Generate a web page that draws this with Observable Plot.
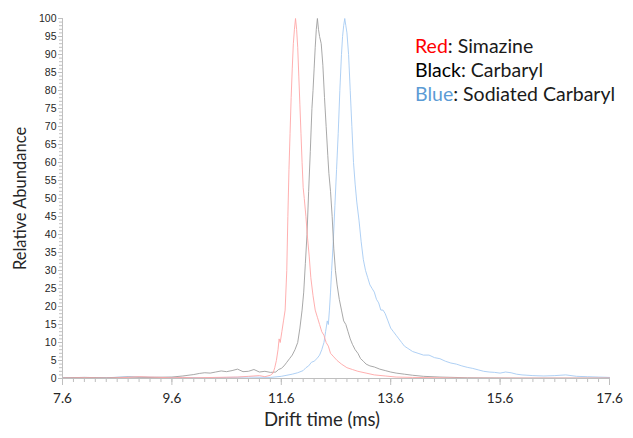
<!DOCTYPE html>
<html>
<head>
<meta charset="utf-8">
<script src="https://cdn.jsdelivr.net/npm/d3@7"></script>
<script src="https://cdn.jsdelivr.net/npm/@observablehq/plot@0.6"></script>
<style>
  body { margin: 0; background: #fff; }
  #chart svg { display: block; }
</style>
</head>
<body>
<div id="chart"></div>
<script>
// ---- data ----
const redTime = [7.6,8.0,8.4,8.8,9.0,9.2,9.4,9.6,9.8,10.0,10.4,10.8,11.0,11.2,11.3,11.4,11.45,11.48,11.51,11.54,11.56,11.58,11.61,11.64,11.67,11.70,11.72,11.74,11.76,11.78,11.80,11.82,11.84,11.86,11.88,11.90,11.92,11.94,11.96,11.98,12.00,12.02,12.05,12.08,12.11,12.14,12.18,12.22,12.26,12.30,12.34,12.38,12.42,12.46,12.50,12.56,12.62,12.70,12.80,12.90,13.0,13.15,13.3,13.5,13.7,14.0,14.5,15.0,16.0,17.0,17.6];
const redAbund = [0.1,0.2,0.1,0.3,0.5,0.4,0.3,0.2,0.3,0.2,0.3,0.4,0.6,0.8,0.5,0.9,1.5,3,5,8,11,10,13,16,19,30,45,58,68,78,86,93,97,100,97,92,84,76,68,60,53,50,45,39,34,28,23,19,17,15,13,12,10,9,7,6,5,4,3,2.5,2,1.5,1,0.7,0.4,0.3,0.2,0.1,0.1,0.1,0.1];

const blackTime = [7.6,8.0,8.4,8.8,9.2,9.6,9.8,10.0,10.1,10.2,10.3,10.4,10.5,10.6,10.7,10.8,10.9,11.0,11.1,11.2,11.3,11.4,11.5,11.55,11.6,11.65,11.7,11.75,11.8,11.85,11.9,11.94,11.98,12.01,12.04,12.07,12.10,12.13,12.16,12.18,12.20,12.22,12.24,12.26,12.28,12.30,12.33,12.36,12.39,12.42,12.45,12.47,12.50,12.53,12.56,12.59,12.62,12.66,12.70,12.74,12.78,12.82,12.86,12.90,12.95,13.0,13.05,13.1,13.15,13.22,13.3,13.4,13.5,13.6,13.7,13.85,14.0,14.2,14.5,15.0,16.0,17.6];
const blackAbund = [0.2,0.3,0.2,0.4,0.3,0.4,0.7,1.1,1.4,1.6,1.5,1.8,2.1,1.9,2.2,2.6,1.9,2.0,2.5,1.8,2.0,1.7,1.8,2.5,2.8,3.5,4.5,5.5,6.5,8,10,14,19,24,32,40,52,63,75,80,86,92,97,100,97,95,93,87,78,70,62,57,52,45,36,30,26,22,19,16,15,13,11,9.5,8,7,5.5,4.8,4,3.5,3.2,2.6,2.2,1.8,1.5,1.2,0.9,0.6,0.4,0.2,0.1,0.1];

const blueTime = [7.6,8.0,8.4,8.8,9.0,9.4,9.8,10.2,10.6,11.0,11.4,11.6,11.8,11.9,12.0,12.05,12.1,12.15,12.2,12.25,12.3,12.34,12.38,12.41,12.44,12.46,12.48,12.50,12.52,12.55,12.58,12.61,12.64,12.67,12.70,12.72,12.74,12.76,12.78,12.80,12.83,12.86,12.89,12.92,12.95,12.98,13.02,13.06,13.10,13.14,13.18,13.22,13.26,13.30,13.34,13.38,13.42,13.46,13.50,13.55,13.60,13.65,13.70,13.75,13.80,13.85,13.90,14.0,14.1,14.2,14.3,14.4,14.5,14.6,14.7,14.8,14.9,15.0,15.1,15.2,15.3,15.4,15.5,15.6,15.7,15.8,15.9,16.0,16.2,16.4,16.6,16.8,17.0,17.2,17.4,17.6];
const blueAbund = [0.2,0.3,0.2,0.5,0.4,0.3,0.3,0.2,0.3,0.4,0.3,0.6,1.2,1.6,2.2,3.0,3.5,4.5,4.8,5.5,6.5,8,10,13,16,15,19,24,30,38,48,58,68,80,90,95,98,100,98,96,90,80,70,60,54,49,44,38,33,30,28,26,25,24,22,21,19,19,18,16,14,13,12,11,10,9,8.5,7.5,7,6.5,6.5,5.8,5.5,4.8,4.3,4,3.5,3.1,2.8,2.4,2.0,1.8,1.7,1.5,1.8,1.6,1.2,1.0,0.8,0.7,0.8,1.0,0.6,0.5,0.4,0.3];

const xTickLabels = [7.6, 9.6, 11.6, 13.6, 15.6, 17.6];
const yTickLabels = [0,5,10,15,20,25,30,35,40,45,50,55,60,65,70,75,80,85,90,95,100];

const legendEntries = [
  {key: "Red", keyColor: "#ff0000", rest: ": Simazine"},
  {key: "Black", keyColor: "#000000", rest: ": Carbaryl"},
  {key: "Blue", keyColor: "#5b9bd5", rest: ": Sodiated Carbaryl"}
];

const toRows = (t, v) => t.map((d, i) => ({t: d, v: v[i]}));
const red = toRows(redTime, redAbund);
const black = toRows(blackTime, blackAbund);
const blue = toRows(blueTime, blueAbund);

const xMinor = d3.range(0, 51).map(i => +(7.6 + i * 0.2).toFixed(2));
const yMinor = d3.range(0, 101);

const axisColor = "#bfbfbf";

const plot = Plot.plot({
  width: 633,
  height: 438,
  marginLeft: 62,
  marginRight: 24,
  marginTop: 18,
  marginBottom: 60,
  x: {domain: [7.6, 17.6]},
  y: {domain: [0, 100]},
  marks: [
    Plot.line(blue, {x: "t", y: "v", stroke: "#a6cbf3", strokeWidth: 0.9}),
    Plot.line(black, {x: "t", y: "v", stroke: "#9e9e9e", strokeWidth: 0.9}),
    Plot.line(red, {x: "t", y: "v", stroke: "#ffa6a6", strokeWidth: 0.9}),
    Plot.ruleY([0], {stroke: axisColor}),
    Plot.ruleX([7.6], {stroke: axisColor}),
    Plot.axisX({ticks: xMinor, tickSize: 4, tickFormat: () => "", stroke: axisColor, label: null}),
    Plot.axisX({ticks: xTickLabels, tickSize: 7, tickPadding: 8, tickFormat: d => d.toFixed(1),
      stroke: axisColor, fill: "#262626", fontSize: 13.5, fontFamily: "Lato", label: null}),
    Plot.axisY({ticks: yMinor, tickSize: 3, tickFormat: () => "", stroke: axisColor, label: null}),
    Plot.axisY({ticks: yTickLabels, tickSize: 4, tickPadding: 2, tickFormat: d => String(d),
      stroke: axisColor, fill: "#262626", fontSize: 10.5, fontFamily: "Liberation Sans", label: null}),
    Plot.text(["Relative Abundance"], {frameAnchor: "left", textAnchor: "middle", rotate: -90, dx: -42, dy: 0,
      fontSize: 16.5, fontFamily: "Lato", fill: "#262626"}),
    Plot.text(["Drift time (ms)"], {frameAnchor: "bottom", textAnchor: "middle", dx: -14, dy: 47,
      fontSize: 18.5, fontFamily: "Lato", fill: "#262626"})
  ]
});

// legend drawn into the same svg
const svg = d3.select(plot);
const lg = svg.append("g").attr("font-family", "Lato").attr("font-size", 19.5).attr("text-anchor", "start");
legendEntries.forEach((e, i) => {
  const t = lg.append("text").attr("x", 415).attr("y", 53 + i * 24);
  t.append("tspan").attr("fill", e.keyColor).text(e.key);
  t.append("tspan").attr("fill", "#1a1a1a").text(e.rest);
});

document.getElementById("chart").appendChild(plot);
</script>
</body>
</html>
